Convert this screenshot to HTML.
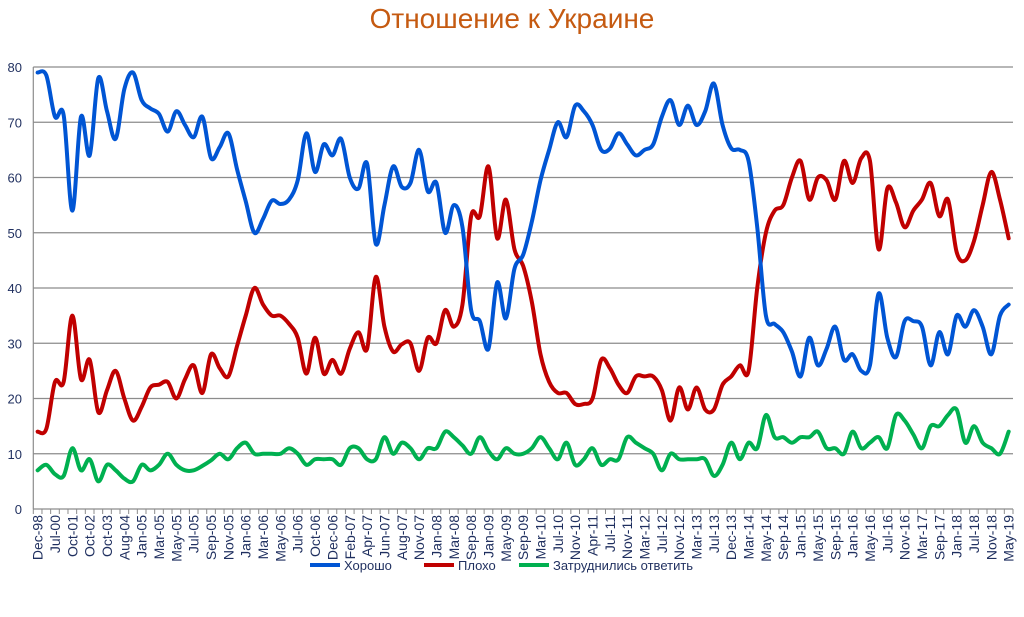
<!DOCTYPE html>
<html><head><meta charset="utf-8"><style>
body{margin:0;background:#fff;}
svg text{font-family:"Liberation Sans","Noto Sans CJK SC",sans-serif;}
</style></head><body>
<svg id="chart" width="1024" height="612" xmlns="http://www.w3.org/2000/svg">
<text x="512" y="28" text-anchor="middle" font-size="28" fill="#C55A11">Отношение к Украине</text>
<g id="grid"></g><g id="axes"></g><g id="series"></g>
<g>
<g><line x1="310" y1="565" x2="340" y2="565" stroke="#0055D4" stroke-width="4"/><text x="344" y="570" font-size="13" fill="#1F2F5F">Хорошо</text></g>
<g><line x1="424" y1="565" x2="454" y2="565" stroke="#C00000" stroke-width="4"/><text x="458" y="570" font-size="13" fill="#1F2F5F">Плохо</text></g>
<g><line x1="519" y1="565" x2="549" y2="565" stroke="#00B050" stroke-width="4"/><text x="553" y="570" font-size="13" fill="#1F2F5F">Затруднились ответить</text></g>
</g>
</svg>
<script>
const tickLabels=["Dec-98","Jul-00","Oct-01","Oct-02","Oct-03","Aug-04","Jan-05","Mar-05","May-05","Jul-05","Sep-05","Nov-05","Jan-06","Mar-06","May-06","Jul-06","Oct-06","Dec-06","Feb-07","Apr-07","Jun-07","Aug-07","Nov-07","Jan-08","Mar-08","Sep-08","Jan-09","May-09","Sep-09","Mar-10","Jul-10","Nov-10","Apr-11","Jul-11","Nov-11","Mar-12","Jul-12","Nov-12","Mar-13","Jul-13","Dec-13","Mar-14","May-14","Sep-14","Jan-15","May-15","Sep-15","Jan-16","May-16","Jul-16","Nov-16","Mar-17","Sep-17","Jan-18","Jul-18","Nov-18","May-19"];
const yTicks=[0,10,20,30,40,50,60,70,80];
const good=[79,78.5,71,71.3,54,71,64,78,72,67,76,79,74,72.5,71.5,68.3,72,69.5,67.3,71,63.5,65.5,68,61.5,55.7,50,52.5,55.8,55.2,56,59.5,68,61,66,64,67,60,58,62.5,48,55,62,58.3,59,65,57.5,59,50,55,51,36,34,29,41,34.5,43.5,46,52,59.5,65,70,67.3,73,72,69.5,65,65.2,68,66,64,65,66,71,74,69.5,73,69.5,72,77,69.5,65.3,65,63,51,35,33.5,32,28.5,24,31,26,29,33,27,28,25,26,39,31,27.5,34,34,33,26,32,28,35,33,36,33,28,35,37];
const bad=[14,14.5,23,23,35,23.5,27,17.5,21.5,25,20,16,18.5,22,22.5,23,20,23.5,26,21,28,25.5,24,29.5,35,40,37,35,35,33.5,31,24.5,31,24.5,27,24.5,29,32,29,42,33,28.5,29.8,30,25,31,30,36,33,37,53,53,62,49,56,47,44,37.5,28,23,21,21,19,19,20,27,25.5,22.5,21,24,24,24,21.5,16,22,18,22,18,18,22.5,24,26,25,40,50,54,55,60,63,56,60,59.5,56,63,59,63.5,63,47,58,55.5,51,54,56,59,53,56,46.5,45,48.5,55,61,56,49];
const unsure=[7,8,6.3,6,11,7,9,5,8,7,5.5,5,8,7,8,10,8,7,7,7.8,8.8,10,9,11,12,10,10,10,10,11,10,8,9,9,9,8,11,11,9,9,13,10,12,11,9,11,11,14,13,11.5,10,13,10.5,9,11,10,10,11,13,11,9,12,8,9,11,8,9,9,13,12,11,10,7,10,9,9,9,9,6,8,12,9,12,11,17,13,13,12,13,13,14,11,11,10,14,11,12,13,11,17,16,13.5,11,15,15,17,18,12,15,12,11,10,14];
const NS="http://www.w3.org/2000/svg";
const X0=33.3,X1=1013,Y0=509,Y1=67,N=good.length;
const cw=(X1-X0)/N;
const xs=i=>X0+cw*(i+0.5);
const ys=v=>Y0-(v/80)*(Y0-Y1);
function mk(tag,attrs,parent){const e=document.createElementNS(NS,tag);for(const k in attrs)e.setAttribute(k,attrs[k]);parent.appendChild(e);return e;}
const grid=document.getElementById('grid'),axes=document.getElementById('axes'),ser=document.getElementById('series');
yTicks.forEach(t=>{
 if(t>0){const g=mk('line',{x1:X0,x2:X1,y1:ys(t),y2:ys(t),stroke:'#8c8c8c','stroke-width':1.2},grid);
 
 }
 const tx=mk('text',{x:22,y:ys(t)+5,'text-anchor':'end','font-size':13,fill:'#1F2F5F'},axes);tx.textContent=t;
 
 
});
const ya=mk('line',{x1:X0,x2:X0,y1:Y1,y2:Y0,stroke:'#8c8c8c','stroke-width':1.2},axes);


const xa=mk('line',{x1:X0,x2:X1,y1:Y0,y2:Y0,stroke:'#8c8c8c','stroke-width':1.2},axes);


for(let i=0;i<=N;i++){mk('line',{x1:X0+cw*i,x2:X0+cw*i,y1:Y0,y2:Y0+5,stroke:'#8c8c8c','stroke-width':1},axes);}
tickLabels.forEach((l,k)=>{const x=xs(k*2);
 const t=mk('text',{transform:`translate(${x+5},${Y0+6}) rotate(-90)`,'text-anchor':'end','font-size':14,fill:'#1F2F5F'},axes);t.textContent=l;
 
 
});
function path(vals){const p=vals.map((v,i)=>[xs(i),ys(v)]);let d=`M${p[0][0]},${p[0][1]}`;
 for(let i=0;i<p.length-1;i++){const a=p[Math.max(0,i-1)],b=p[i],c=p[i+1],e=p[Math.min(p.length-1,i+2)];const s=1/6;
 d+=` C${b[0]+(c[0]-a[0])*s},${b[1]+(c[1]-a[1])*s} ${c[0]-(e[0]-b[0])*s},${c[1]-(e[1]-b[1])*s} ${c[0]},${c[1]}`;}return d;}
[[unsure,'#00B050','line-undecided'],[bad,'#C00000','line-bad'],[good,'#0055D4','line-good']].forEach(([v,c,n])=>{
 const p=mk('path',{d:path(v),fill:'none',stroke:c,'stroke-width':4,'stroke-linejoin':'round','stroke-linecap':'round'},ser);
 
 
});
</script>
</body></html>
